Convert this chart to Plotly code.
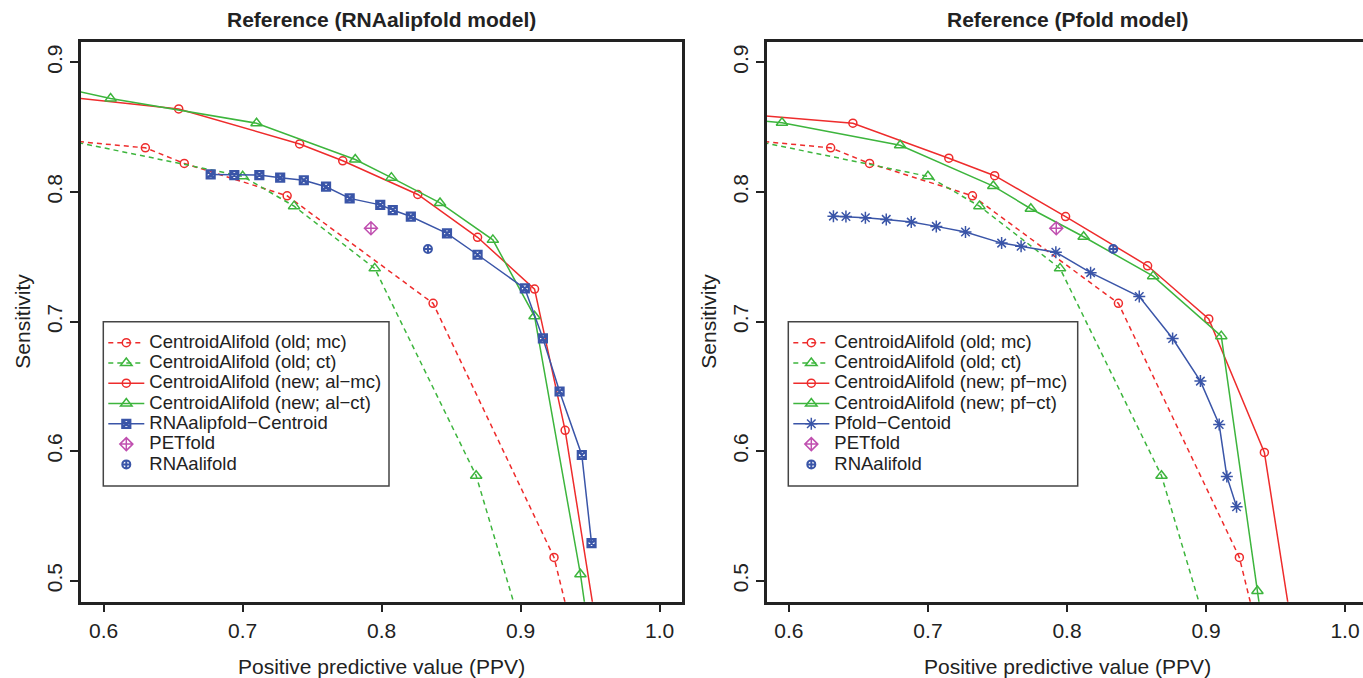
import plotly.graph_objects as go

# ---------------- data ----------------
# shared "old" CentroidAlifold curves (same in both panels)
old_mc_x = [0.55, 0.630, 0.658, 0.732, 0.837, 0.924, 0.951]
old_mc_y = [0.842, 0.834, 0.822, 0.797, 0.714, 0.518, 0.40]
old_ct_x = [0.55, 0.700, 0.737, 0.795, 0.868, 0.918]
old_ct_y = [0.845, 0.812, 0.789, 0.741, 0.581, 0.40]

# left panel: RNAalipfold model
new_al_mc_x = [0.55, 0.654, 0.741, 0.772, 0.826, 0.869, 0.910, 0.932, 0.964]
new_al_mc_y = [0.876, 0.864, 0.837, 0.824, 0.798, 0.765, 0.725, 0.616, 0.40]
new_al_ct_x = [0.55, 0.605, 0.710, 0.781, 0.807, 0.842, 0.880, 0.910, 0.943, 0.957]
new_al_ct_y = [0.885, 0.872, 0.853, 0.825, 0.811, 0.7915, 0.763, 0.704, 0.505, 0.40]
alipfold_x = [0.677, 0.694, 0.712, 0.727, 0.744, 0.760, 0.777, 0.799, 0.808, 0.821,
              0.847, 0.869, 0.903, 0.916, 0.928, 0.944, 0.951]
alipfold_y = [0.8135, 0.813, 0.813, 0.811, 0.809, 0.804, 0.795, 0.790, 0.786, 0.781,
              0.768, 0.7515, 0.7255, 0.687, 0.646, 0.597, 0.529]

# right panel: Pfold model
new_pf_mc_x = [0.55, 0.646, 0.715, 0.748, 0.799, 0.858, 0.902, 0.942, 0.971]
new_pf_mc_y = [0.8615, 0.853, 0.826, 0.8125, 0.781, 0.743, 0.702, 0.599, 0.40]
new_pf_ct_x = [0.55, 0.595, 0.680, 0.747, 0.774, 0.812, 0.862, 0.911, 0.937, 0.949]
new_pf_ct_y = [0.858, 0.8534, 0.836, 0.8045, 0.787, 0.7654, 0.735, 0.6887, 0.492, 0.40]
pfold_x = [0.632, 0.641, 0.655, 0.670, 0.688, 0.706, 0.727, 0.753, 0.767, 0.792,
           0.817, 0.852, 0.876, 0.896, 0.9095, 0.915, 0.922]
pfold_y = [0.7813, 0.781, 0.780, 0.7788, 0.7767, 0.7734, 0.769, 0.7605, 0.758, 0.7535,
           0.7377, 0.7193, 0.6869, 0.654, 0.6205, 0.5805, 0.557]

# single points
petfold_x = [0.7923]
petfold_y = [0.772]
rnaalifold_x = [0.8333]
rnaalifold_y = [0.756]

x_ticks = [0.6, 0.7, 0.8, 0.9, 1.0]
y_ticks = [0.5, 0.6, 0.7, 0.8, 0.9]

left_title = "Reference (RNAalipfold model)"
right_title = "Reference (Pfold model)"
x_title = "Positive predictive value (PPV)"
y_title = "Sensitivity"

left_names = ["CentroidAlifold (old; mc)", "CentroidAlifold (old; ct)",
              "CentroidAlifold (new; al\u2212mc)", "CentroidAlifold (new; al\u2212ct)",
              "RNAalipfold\u2212Centroid", "PETfold", "RNAalifold"]
right_names = ["CentroidAlifold (old; mc)", "CentroidAlifold (old; ct)",
               "CentroidAlifold (new; pf\u2212mc)", "CentroidAlifold (new; pf\u2212ct)",
               "Pfold\u2212Centoid", "PETfold", "RNAalifold"]

# ---------------- style ----------------
RED = '#EE2C2C'
GREEN = '#3DB53D'
BLUE = '#3A55A8'
MAG = '#C050B0'
INK = '#222222'
FONT = 'Liberation Sans, Arial, Helvetica, sans-serif'
DASH = '5px,4px'
W, H = 1363, 678


def nm(s):
    return '<span style="font-size:18.5px">' + s + '</span>'


fig = go.Figure()


def add(x, y, name, color, dash, symbol, size, xa, ya, leg, mode='lines+markers', mlw=1.5):
    fig.add_trace(go.Scatter(
        x=x, y=y, name=nm(name), mode=mode,
        line=dict(color=color, width=1.5, dash=dash),
        marker=dict(symbol=symbol, size=size, color=color,
                    line=dict(color=color, width=mlw)),
        xaxis=xa, yaxis=ya, legend=leg, hoverinfo='skip'))


# left panel
add(old_mc_x, old_mc_y, left_names[0], RED, DASH, 'circle-open', 8, 'x', 'y', 'legend')
add(old_ct_x, old_ct_y, left_names[1], GREEN, DASH, 'triangle-up-open', 10, 'x', 'y', 'legend')
add(new_al_mc_x, new_al_mc_y, left_names[2], RED, 'solid', 'circle-open', 8, 'x', 'y', 'legend')
add(new_al_ct_x, new_al_ct_y, left_names[3], GREEN, 'solid', 'triangle-up-open', 10, 'x', 'y', 'legend')
add(alipfold_x, alipfold_y, left_names[4], BLUE, 'solid', 'square-x-open', 8, 'x', 'y', 'legend', mlw=2.2)
add(petfold_x, petfold_y, left_names[5], MAG, 'solid', 'diamond-cross-open', 10, 'x', 'y', 'legend', mode='markers')
add(rnaalifold_x, rnaalifold_y, left_names[6], BLUE, 'solid', 'circle-cross-open', 8, 'x', 'y', 'legend', mode='markers', mlw=2)

# right panel
add(old_mc_x, old_mc_y, right_names[0], RED, DASH, 'circle-open', 8, 'x2', 'y2', 'legend2')
add(old_ct_x, old_ct_y, right_names[1], GREEN, DASH, 'triangle-up-open', 10, 'x2', 'y2', 'legend2')
add(new_pf_mc_x, new_pf_mc_y, right_names[2], RED, 'solid', 'circle-open', 8, 'x2', 'y2', 'legend2')
add(new_pf_ct_x, new_pf_ct_y, right_names[3], GREEN, 'solid', 'triangle-up-open', 10, 'x2', 'y2', 'legend2')
add(pfold_x, pfold_y, right_names[4], BLUE, 'solid', 'asterisk-open', 10, 'x2', 'y2', 'legend2')
add(petfold_x, petfold_y, right_names[5], MAG, 'solid', 'diamond-cross-open', 10, 'x2', 'y2', 'legend2', mode='markers')
add(rnaalifold_x, rnaalifold_y, right_names[6], BLUE, 'solid', 'circle-cross-open', 8, 'x2', 'y2', 'legend2', mode='markers', mlw=2)

ydom = [(H - 601.7) / H, (H - 41.7) / H]
common_axis = dict(showgrid=False, zeroline=False, showline=True, linewidth=2.5,
                   linecolor=INK, ticks='outside', ticklen=8, tickwidth=2,
                   tickcolor=INK, tickformat='.1f',
                   tickfont=dict(family=FONT, size=21, color=INK))

legend_common = dict(xanchor='left', yanchor='top', bgcolor='rgba(0,0,0,0)', borderwidth=0,
                     font=dict(family=FONT, size=13.3, color=INK), itemwidth=36,
                     tracegroupgap=0)

fig.update_layout(
    width=W, height=H,
    margin=dict(l=0, r=0, t=0, b=0),
    paper_bgcolor='white', plot_bgcolor='white',
    font=dict(family=FONT, color=INK),
    hovermode=False,
    xaxis=dict(domain=[81 / W, 682.3 / W], range=[0.5837, 1.0163], tickvals=x_ticks,
               anchor='y', mirror=True, **common_axis),
    yaxis=dict(domain=ydom, range=[0.4838, 0.9159], tickvals=y_ticks, tickangle=-90,
               anchor='x', mirror=True, **common_axis),
    xaxis2=dict(domain=[766.7 / W, 1.0], range=[0.5840, 1.01295], tickvals=x_ticks,
                anchor='y2', mirror=True, **common_axis),
    yaxis2=dict(domain=ydom, range=[0.4838, 0.9159], tickvals=y_ticks, tickangle=-90,
                anchor='x2', mirror=False, **common_axis),
    legend=dict(x=103.3 / W, y=(H - 327.5) / H, **legend_common),
    legend2=dict(x=788.3 / W, y=(H - 327.5) / H, **legend_common),
    shapes=[
        dict(type='rect', xref='paper', yref='paper', layer='above',
             x0=103.3 / W, x1=389 / W, y0=1 - 486 / H, y1=1 - 321.7 / H,
             line=dict(color='#444444', width=1.5), fillcolor='white'),
        dict(type='rect', xref='paper', yref='paper', layer='above',
             x0=788.3 / W, x1=1077.7 / W, y0=1 - 486 / H, y1=1 - 321.7 / H,
             line=dict(color='#444444', width=1.5), fillcolor='white'),
    ],
    annotations=[
        dict(text='<b>' + left_title + '</b>', x=381.5 / W, y=1 - 19 / H, xref='paper', yref='paper',
             showarrow=False, xanchor='center', yanchor='middle', font=dict(family=FONT, size=21, color=INK)),
        dict(text='<b>' + right_title + '</b>', x=1067.5 / W, y=1 - 19 / H, xref='paper', yref='paper',
             showarrow=False, xanchor='center', yanchor='middle', font=dict(family=FONT, size=21, color=INK)),
        dict(text=x_title, x=381.5 / W, y=1 - 666 / H, xref='paper', yref='paper',
             showarrow=False, xanchor='center', yanchor='middle', font=dict(family=FONT, size=21, color=INK)),
        dict(text=x_title, x=1067.5 / W, y=1 - 666 / H, xref='paper', yref='paper',
             showarrow=False, xanchor='center', yanchor='middle', font=dict(family=FONT, size=21, color=INK)),
        dict(text=y_title, x=23 / W, y=1 - 321.7 / H, xref='paper', yref='paper', textangle=-90,
             showarrow=False, xanchor='center', yanchor='middle', font=dict(family=FONT, size=21, color=INK)),
        dict(text=y_title, x=709 / W, y=1 - 321.7 / H, xref='paper', yref='paper', textangle=-90,
             showarrow=False, xanchor='center', yanchor='middle', font=dict(family=FONT, size=21, color=INK)),
    ],
)

fig.write_html("out.html", config={'displayModeBar': False},
               post_script="document.body.style.margin='0px';document.body.style.overflow='hidden';")
